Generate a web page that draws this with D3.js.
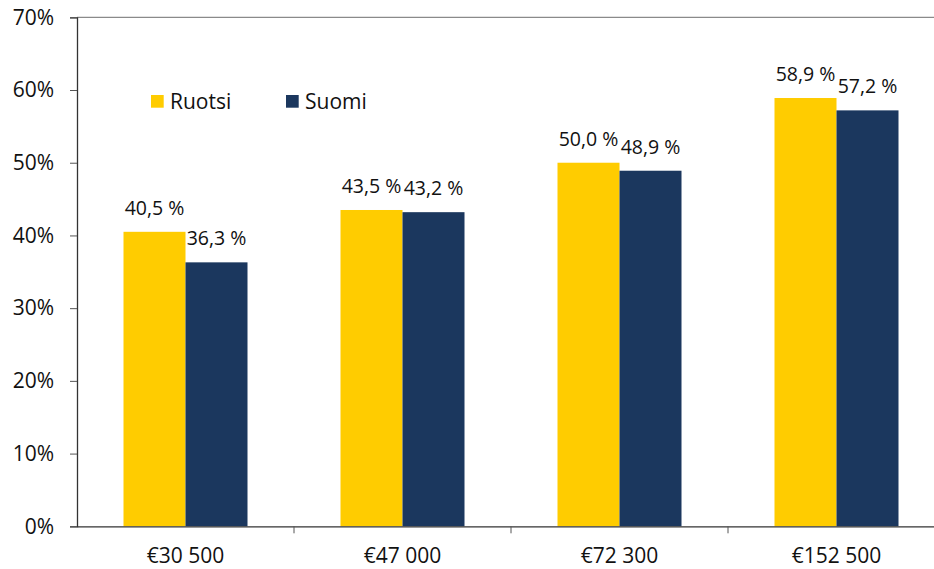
<!DOCTYPE html>
<html>
<head>
<meta charset="utf-8">
<script src="https://cdn.jsdelivr.net/npm/d3@7"></script>
<style>
  html, body { margin: 0; padding: 0; background: #fff; }
  svg { display: block; font-family: "Open Sans", "Noto Sans", sans-serif; }
</style>
</head>
<body>
<svg id="chart" width="934" height="569"></svg>
<script>
const categories = ["€30 500", "€47 000", "€72 300", "€152 500"];
const seriesNames = ["Ruotsi", "Suomi"];
const ruotsi = [40.5, 43.5, 50.0, 58.9];
const suomi = [36.3, 43.2, 48.9, 57.2];
const valueLabelsRuotsi = ["40,5 %", "43,5 %", "50,0 %", "58,9 %"];
const valueLabelsSuomi = ["36,3 %", "43,2 %", "48,9 %", "57,2 %"];
const yTicks = [0, 10, 20, 30, 40, 50, 60, 70];
const colors = ["#FFCC00", "#1B375E"];

(function () {
const svg = d3.select("#chart");
const mLeft = 77, mRight = 945, mTop = 17.3, mBottom = 526.3;

const y = d3.scaleLinear().domain([0, 70]).range([mBottom, mTop]);
const p = 93 / 217;
const x0 = d3.scaleBand().domain(categories).range([mLeft, mRight]).paddingInner(p).paddingOuter(p / 2);
const x1 = d3.scaleBand().domain(seriesNames).range([0, x0.bandwidth()]);
const color = d3.scaleOrdinal().domain(seriesNames).range(colors);

const data = categories.map((c, i) => ({
  cat: c,
  vals: [
    { s: "Ruotsi", v: ruotsi[i], label: valueLabelsRuotsi[i] },
    { s: "Suomi", v: suomi[i], label: valueLabelsSuomi[i] }
  ]
}));

// top border line
svg.append("line")
  .attr("x1", mLeft).attr("x2", 934)
  .attr("y1", y(70)).attr("y2", y(70))
  .attr("stroke", "#8a8a8a").attr("stroke-width", 1.2);

// bars
const groups = svg.append("g").selectAll("g").data(data).join("g")
  .attr("transform", d => `translate(${x0(d.cat)},0)`);
groups.selectAll("rect").data(d => d.vals).join("rect")
  .attr("x", d => x1(d.s))
  .attr("width", x1.bandwidth())
  .attr("y", d => y(d.v))
  .attr("height", d => y(0) - y(d.v))
  .attr("fill", d => color(d.s));
groups.selectAll("text").data(d => d.vals).join("text")
  .attr("x", d => x1(d.s) + x1.bandwidth() / 2)
  .attr("y", d => y(d.v) - 17)
  .attr("text-anchor", "middle")
  .attr("font-size", 19.5)
  .attr("fill", "#111")
  .text(d => d.label);

// y axis
const yAxis = d3.axisLeft(y).tickValues(yTicks).tickFormat(d => d + "%").tickSize(7).tickPadding(16);
const yg = svg.append("g").attr("transform", `translate(${mLeft},0)`).call(yAxis);
yg.select(".domain").attr("stroke", "#333").attr("stroke-width", 1.3);
yg.selectAll(".tick line").attr("stroke", "#555");
yg.selectAll(".tick text").attr("font-size", 21).attr("fill", "#111")
  .attr("font-family", "'Open Sans', sans-serif");

// x axis
const xAxis = d3.axisBottom(x0).tickSize(0).tickPadding(22);
const xg = svg.append("g").attr("transform", `translate(0,${mBottom})`).call(xAxis);
xg.select(".domain").attr("stroke", "#333").attr("stroke-width", 1.3);
xg.selectAll(".tick text").attr("font-size", 21).attr("fill", "#111")
  .attr("font-family", "'Open Sans', sans-serif");
// category boundary ticks
const step = x0.step();
const bounds = d3.range(1, categories.length).map(i => x0(categories[i]) - x0.paddingInner() * step / 2);
svg.append("g").selectAll("line").data(bounds).join("line")
  .attr("x1", d => d).attr("x2", d => d)
  .attr("y1", mBottom).attr("y2", mBottom + 7)
  .attr("stroke", "#555");

// legend
const legend = svg.append("g");
const lx = [151, 286];
seriesNames.forEach((s, i) => {
  legend.append("rect").attr("x", lx[i]).attr("y", 95).attr("width", 12.7).attr("height", 12.7).attr("fill", color(s));
  legend.append("text").attr("x", lx[i] + 19).attr("y", 109).attr("font-size", 21).attr("fill", "#111").text(s);
});
})();
</script>
</body>
</html>
